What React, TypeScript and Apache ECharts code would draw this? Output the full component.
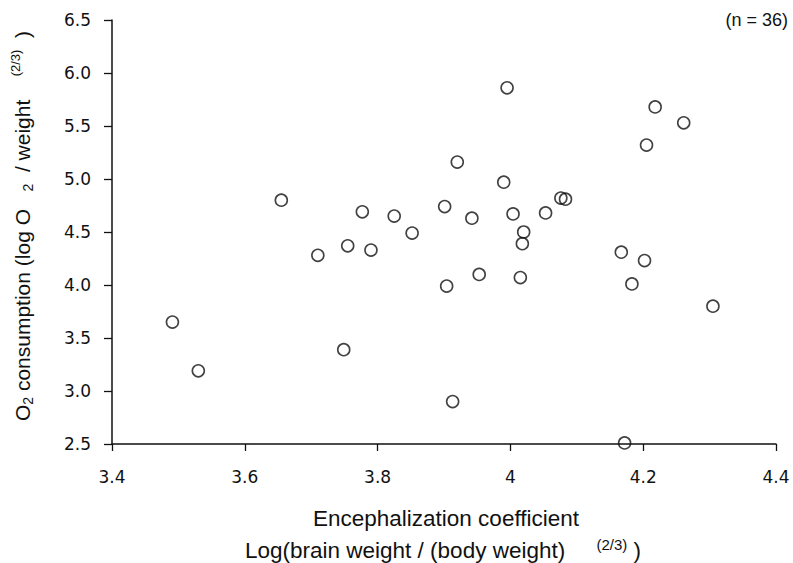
import React, { useEffect, useRef } from "react";
import * as echarts from "echarts";

const encephalization = [
  3.491, 3.53, 3.655, 3.71, 3.755, 3.777, 3.79, 3.749, 3.825, 3.852, 3.901,
  3.92, 3.904, 3.913, 3.942, 3.953, 3.99, 3.995, 4.004, 4.02, 4.018, 4.015,
  4.053, 4.076, 4.083, 4.167, 4.183, 4.202, 4.205, 4.218, 4.261, 4.305, 4.172,
];
const o2Consumption = [
  3.65, 3.19, 4.8, 4.28, 4.37, 4.69, 4.33, 3.39, 4.65, 4.49, 4.74, 5.16, 3.99,
  2.9, 4.63, 4.1, 4.97, 5.86, 4.67, 4.5, 4.39, 4.07, 4.68, 4.82, 4.81, 4.31,
  4.01, 4.23, 5.32, 5.68, 5.53, 3.8, 2.51,
];
const xTicks = { min: 3.4, max: 4.4, interval: 0.2 };
const yTicks = { min: 2.5, max: 6.5, interval: 0.5 };
const sampleLabel = "(n = 36)";
const xTitle1 = "Encephalization coefficient";
const xTitle2 = "Log(brain weight / (body weight)";

const FONT = "'Liberation Sans', Arial, sans-serif";
const TICK_FONT = "'DejaVu Sans', 'Liberation Sans', sans-serif";

export default function App() {
  const ref = useRef<HTMLDivElement>(null);
  useEffect(() => {
    if (!ref.current) return;
    const chart = echarts.init(ref.current, null, { renderer: "svg" });
    const points = encephalization.map((x, i) => [x, o2Consumption[i]]);
    chart.setOption({
      animation: false,
      backgroundColor: "#fff",
      textStyle: { fontFamily: FONT },
      grid: { left: 112, right: 17, top: 20, bottom: 119, containLabel: false },
      xAxis: {
        type: "value",
        min: xTicks.min,
        max: xTicks.max,
        interval: xTicks.interval,
        axisLine: { show: true, lineStyle: { color: "#111", width: 1.5 } },
        axisTick: { show: true, length: 7, lineStyle: { color: "#111", width: 1.3 } },
        splitLine: { show: false },
        axisLabel: {
          margin: 24,
          fontSize: 17,
          color: "#111",
          fontFamily: TICK_FONT,
          formatter: (v: number) => String(Math.round(v * 10) / 10),
        },
      },
      yAxis: {
        type: "value",
        min: yTicks.min,
        max: yTicks.max,
        interval: yTicks.interval,
        axisLine: { show: true, lineStyle: { color: "#111", width: 1.5 } },
        axisTick: { show: true, length: 8, lineStyle: { color: "#111", width: 1.3 } },
        splitLine: { show: false },
        axisLabel: {
          margin: 21,
          fontSize: 17,
          color: "#111",
          fontFamily: TICK_FONT,
          formatter: (v: number) => v.toFixed(1),
        },
      },
      series: [
        {
          type: "scatter",
          data: points,
          symbol: "circle",
          symbolSize: 12,
          clip: false,
          itemStyle: { color: "rgba(0,0,0,0)", borderColor: "#111", borderWidth: 1.6 },
        },
      ],
      graphic: [
        {
          type: "text",
          right: 5,
          top: 11,
          style: { text: sampleLabel, fontSize: 18, fontFamily: FONT, fill: "#111" },
        },
        {
          type: "text",
          x: 446,
          y: 518,
          style: {
            text: xTitle1,
            fontSize: 22.5,
            fontFamily: FONT,
            fill: "#111",
            align: "center",
            verticalAlign: "middle",
          },
        },
        {
          type: "text",
          x: 245,
          y: 550,
          style: {
            text: xTitle2 + "     {sup|(2/3)} )",
            fontSize: 22.5,
            fontFamily: FONT,
            fill: "#111",
            align: "left",
            verticalAlign: "middle",
            lineHeight: 26,
            rich: {
              sup: { fontSize: 15, fontFamily: FONT, fill: "#111", verticalAlign: "top", lineHeight: 15 },
            },
          },
        },
        {
          type: "text",
          x: 22,
          y: 226,
          rotation: Math.PI / 2,
          style: {
            text: "O{sub|2} consumption (log O   {sub|2}  / weight    {sup|(2/3)}  )",
            fontSize: 21,
            fontFamily: FONT,
            fill: "#111",
            align: "center",
            verticalAlign: "middle",
            lineHeight: 26,
            rich: {
              sub: { fontSize: 14, fontFamily: FONT, fill: "#111", verticalAlign: "bottom", lineHeight: 14 },
              sup: { fontSize: 13, fontFamily: FONT, fill: "#111", verticalAlign: "top", lineHeight: 13 },
            },
          },
        },
      ],
    });
    return () => chart.dispose();
  }, []);
  return (
    <div
      ref={ref}
      style={{ position: "fixed", left: 0, top: 0, width: 793, height: 563 }}
    />
  );
}
